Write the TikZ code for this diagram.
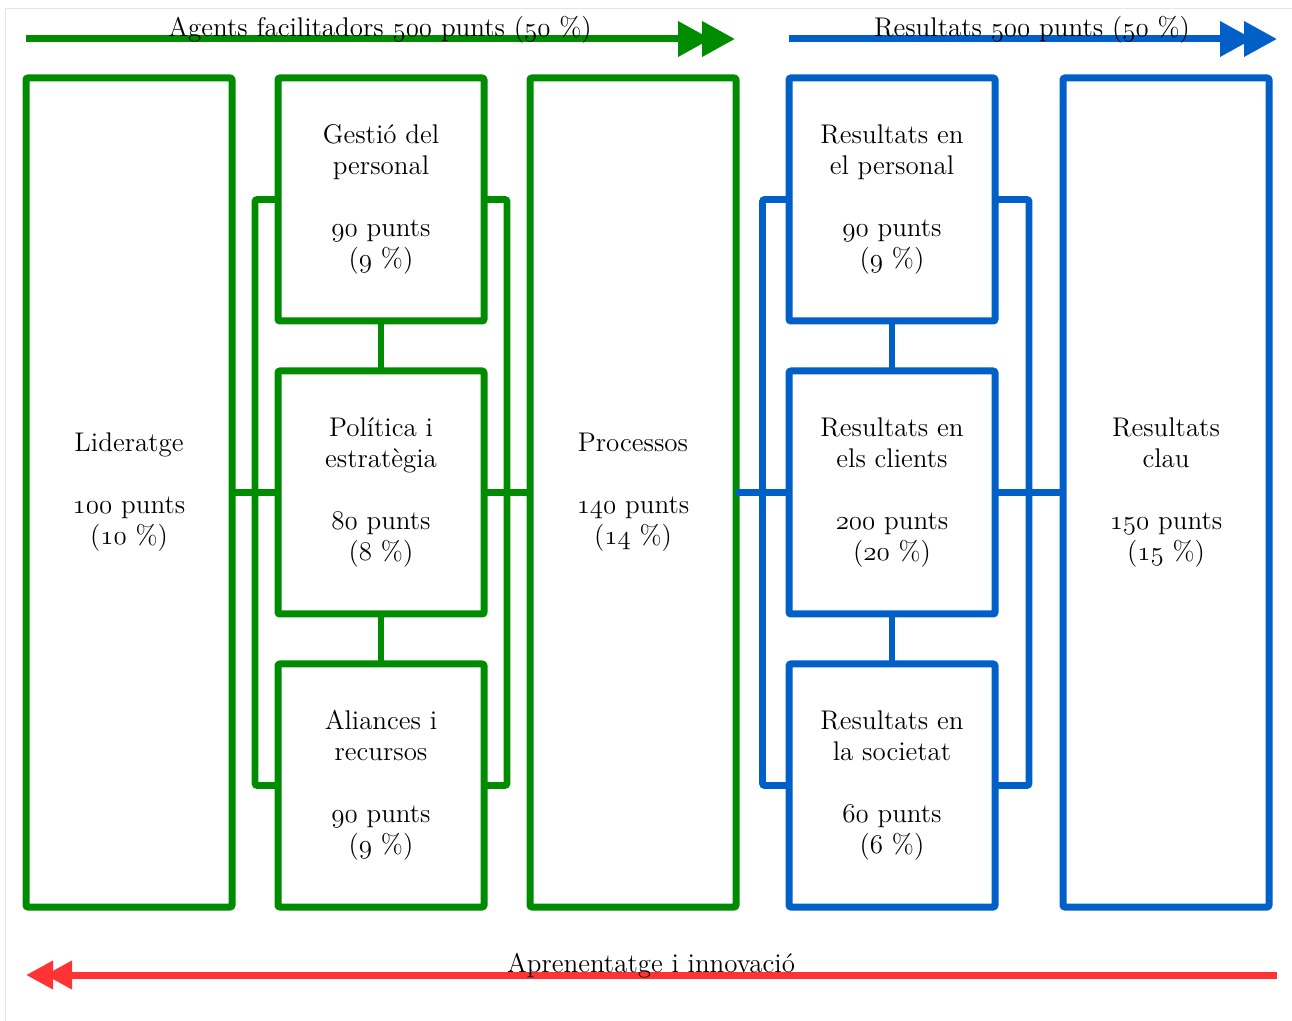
\documentclass[tikz,border=0pt]{standalone}
\usepackage{xcolor}
\usetikzlibrary{positioning}
\usetikzlibrary{arrows.meta}
\DeclareFontShape{OML}{cmm}{m}{it}{<->cmmi12}{}
\newcommand{\OSN}[1]{\ensuremath{\mathnormal{#1}}}
\definecolor{colorAg}{HTML}{008C00}
\definecolor{colorRe}{HTML}{0060C8}
\definecolor{colorAp}{HTML}{FF3333}
\begin{document}
\begin{tikzpicture}[x=0.5pt,y=-0.5pt,every node/.append style={align=center,font=\fontsize{13.5}{15.5}\selectfont},
  bigbox/.style={draw, line width=3.5pt, rounded corners=1pt, inner sep=0pt, outer sep=0pt, minimum width=103pt, minimum height=414.5pt},
  smallbox/.style={draw, line width=3.5pt, rounded corners=1pt, inner sep=0pt, outer sep=0pt, minimum width=103pt, minimum height=121.5pt},
  link/.style={line width=3.3pt, rounded corners=1pt},
  bigarrow/.style={line width=3.5pt, -{Triangle[length=16.5pt,width=17pt,sep=-4.5pt]Triangle[length=16.5pt,width=17pt]}},
  backarrow/.style={line width=3.5pt, -{Triangle[length=13.5pt,width=13.5pt,sep=-4pt]Triangle[length=13.5pt,width=13.5pt]}},
  arrowlabel/.style={anchor=base, inner sep=0pt}]
    \useasboundingbox (0,0) rectangle (1292,1021);
    \draw[gray!20, line width=0.5pt] (5,1021) -- (5,9) -- (1292,9);
    \node [bigbox, draw=colorAg] (lid) at (129,492.5) {Lideratge\\[15.5pt]\OSN{100} punts\\(\OSN{10} \%)};
    \node [smallbox, draw=colorAg, right=23pt of lid.north east, anchor=north west] (gtop) {Gestió del\\personal\\[15.5pt]\OSN{90} punts\\(\OSN{9} \%)};
    \node [smallbox, draw=colorAg, below=25pt of gtop] (gmid) {Política i\\estratègia\\[15.5pt]\OSN{80} punts\\(\OSN{8} \%)};
    \node [smallbox, draw=colorAg, below=25pt of gmid] (gbot) {Aliances i\\recursos\\[15.5pt]\OSN{90} punts\\(\OSN{9} \%)};
    \node [bigbox, draw=colorAg, right=23pt of gmid] (proc) {Processos\\[15.5pt]\OSN{140} punts\\(\OSN{14} \%)};
    \node [smallbox, draw=colorRe, right=26.5pt of proc.north east, anchor=north west] (btop) {Resultats en\\el personal\\[15.5pt]\OSN{90} punts\\(\OSN{9} \%)};
    \node [smallbox, draw=colorRe, below=25pt of btop] (bmid) {Resultats en\\els clients\\[15.5pt]\OSN{200} punts\\(\OSN{20} \%)};
    \node [smallbox, draw=colorRe, below=25pt of bmid] (bbot) {Resultats en\\la societat\\[15.5pt]\OSN{60} punts\\(\OSN{6} \%)};
    \node [bigbox, draw=colorRe, right=34pt of bmid] (clau) {Resultats\\clau\\[15.5pt]\OSN{150} punts\\(\OSN{15} \%)};
    \draw[link, colorAg] (gtop.south) -- (gmid.north);
    \draw[link, colorAg] (gmid.south) -- (gbot.north);
    \draw[link, colorAg] (gtop.west) -- ++(-11.5pt,0) |- (gbot.west);
    \draw[link, colorAg] (gtop.east) -- ++(11.5pt,0) |- (gbot.east);
    \draw[link, colorAg] (lid.east) -- (gmid.west);
    \draw[link, colorAg] (gmid.east) -- (proc.west);
    \draw[link, colorRe] (btop.south) -- (bmid.north);
    \draw[link, colorRe] (bmid.south) -- (bbot.north);
    \draw[link, colorRe] (btop.west) -- ++(-13.25pt,0) |- (bbot.west);
    \draw[link, colorRe] (btop.east) -- ++(17pt,0) |- (bbot.east);
    \draw[link, colorRe] (proc.east) -- (bmid.west);
    \draw[link, colorRe] (bmid.east) -- (clau.west);
    \coordinate (ag1) at (26,39);
    \coordinate (ag2) at (735,39);
    \coordinate (re1) at (789,39);
    \coordinate (re2) at (1277,39);
    \coordinate (ap1) at (1277,975);
    \coordinate (ap2) at (26,975);
    \draw[bigarrow, colorAg] (ag1) -- (ag2);
    \draw[bigarrow, colorRe] (re1) -- (re2);
    \draw[backarrow, colorAp] (ap1) -- (ap2);
    \node [arrowlabel] (agtxt) at (380,37) {Agents facilitadors \OSN{500} punts (\OSN{50} \%)};
    \node [arrowlabel] (retxt) at (1032,37) {Resultats \OSN{500} punts (\OSN{50} \%)};
    \node [arrowlabel] (aptxt) at (651,972) {Aprenentatge i innovació};
\end{tikzpicture}
\end{document}
